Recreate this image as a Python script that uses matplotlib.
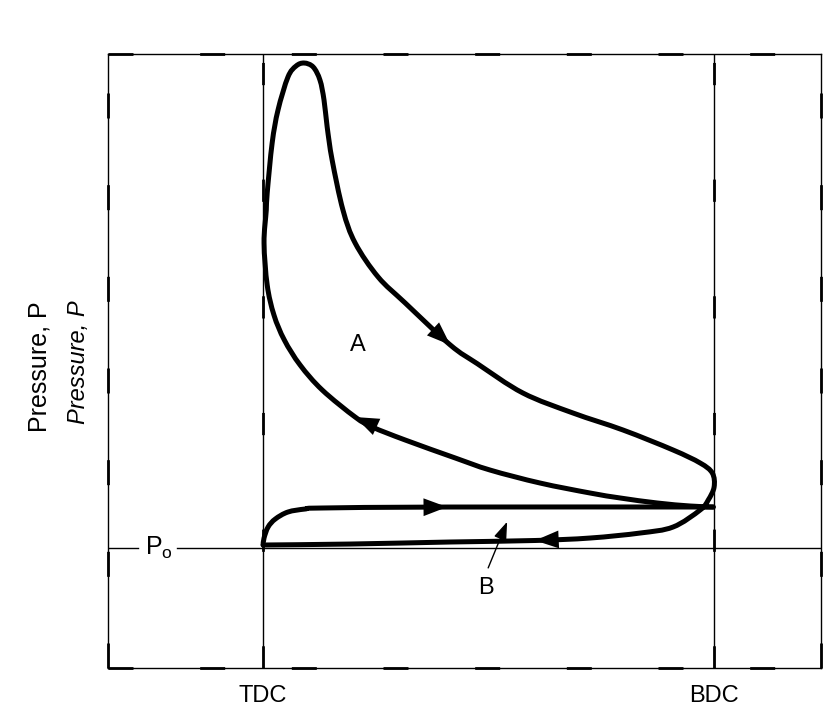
import matplotlib
matplotlib.use("Agg")
import matplotlib.pyplot as plt
from matplotlib.path import Path
from matplotlib.patches import PathPatch
import numpy as np

plt.rcParams['font.family'] = ['Liberation Sans', 'DejaVu Sans']

# ---- data: volume (% of stroke, TDC=0, BDC=100) and pressure (relative units, Po = 0)
# power loop A (compression -> combustion -> expansion -> blowdown -> exhaust)
loop_V = [99.8, 94.7, 87.4, 79.2, 72.5, 61.4, 50.3, 42.6, 31.5, 24.2, 20.4, 13.1, 8.2, 4.7,
          2.4, 0.9, 0.2, 0.7, 0.9, 2.0, 3.3, 5.5, 7.3, 9.1, 11.1, 12.6, 13.5, 14.2, 15.3, 17.7,
          20.4, 25.5, 31.5, 41.5, 47.5, 57.6, 68.7, 79.8, 90.9, 96.9, 99.6, 100.0, 98.7, 96.9,
          90.9, 83.6, 72.5, 60.3, 41.5, 19.3, 0.0]
loop_P = [0.845, 0.866, 0.928, 1.031, 1.134, 1.340, 1.608, 1.856, 2.227, 2.495, 2.701, 3.258,
          3.773, 4.289, 4.804, 5.423, 6.289, 6.969, 7.320, 8.351, 9.031, 9.711, 9.938, 10.000,
          9.918, 9.649, 9.237, 8.680, 8.000, 6.969, 6.289, 5.588, 5.052, 4.186, 3.800, 3.196,
          2.784, 2.433, 2.021, 1.753, 1.546, 1.258, 0.990, 0.784, 0.433, 0.309, 0.206, 0.155,
          0.124, 0.082, 0.062]
# intake stroke (pumping loop B)
intake_V = [0.0, 0.2, 1.1, 2.7, 5.5, 9.3, 13.1, 40.8, 99.8]
intake_P = [0.062, 0.206, 0.433, 0.598, 0.742, 0.804, 0.825, 0.845, 0.845]

tick_pos = [0, 100]
tick_labels = ['TDC', 'BDC']
p0 = 0.0

# arrow (tail index, tip index) on the curves
loop_arrows = [(8, 10), (32, 33), (46, 47)]
intake_arrows = [(6, 7)]


def smooth_path(xs, ys):
    pts = np.column_stack([xs, ys]).astype(float)
    n = len(pts)
    verts = [pts[0]]
    codes = [Path.MOVETO]
    for i in range(n - 1):
        p0_ = pts[i - 1] if i > 0 else pts[i]
        p1 = pts[i]
        p2 = pts[i + 1]
        p3 = pts[i + 2] if i + 2 < n else pts[i + 1]
        c1 = p1 + (p2 - p0_) / 6.0
        c2 = p2 - (p3 - p1) / 6.0
        verts += [c1, c2, p2]
        codes += [Path.CURVE4] * 3
    return Path(verts, codes)


fig = plt.figure(figsize=(8.23, 7.11), dpi=100)
W, H = 823, 711
ax = fig.add_axes([108 / W, (H - 668) / H, (821 - 108) / W, (668 - 54) / H])
ax.set_xlim(-34.4, 123.7)
ax.set_ylim(-2.474, 10.186)

for s in ax.spines.values():
    s.set_linewidth(1.0)
    s.set_color('black')
# dashed overlay to imitate the printed frame
dash = dict(color='black', lw=2.0, dashes=(9, 24), transform=ax.transAxes, clip_on=False,
            solid_capstyle='butt')
ax.plot([0, 1], [1, 1], **dash)
ax.plot([0, 1], [0, 0], **dash)
ax.plot([0, 0], [0, 1], **dash)
ax.plot([1, 1], [0, 1], **dash)

# TDC / BDC lines
for xv in tick_pos:
    ax.axvline(xv, color='black', lw=1.0)
    ax.plot([xv, xv], [-2.474, 10.186], color='black', lw=2.0, dashes=(8, 34),
            solid_capstyle='butt')

# Po line with a gap for the label
ax.plot([-34.4, -27.7], [p0, p0], color='black', lw=1.0)
ax.plot([-19.1, 123.7], [p0, p0], color='black', lw=1.0)
ax.text(-26.2, p0, r'$\mathregular{P_o}$', fontsize=18, ha='left', va='center')

# curves
for xs, ys in [(loop_V, loop_P), (intake_V, intake_P)]:
    ax.add_patch(PathPatch(smooth_path(xs, ys), fill=False, edgecolor='black', lw=3.6,
                           joinstyle='round', capstyle='round'))

astyle = '-|>,head_length=0.85,head_width=0.32'
for a, b in loop_arrows:
    ax.annotate('', xy=(loop_V[b], loop_P[b]), xytext=(loop_V[a], loop_P[a]),
                arrowprops=dict(arrowstyle=astyle, color='black', lw=0, mutation_scale=20,
                                shrinkA=0, shrinkB=0))
for a, b in intake_arrows:
    ax.annotate('', xy=(intake_V[b], intake_P[b]), xytext=(intake_V[a], intake_P[a]),
                arrowprops=dict(arrowstyle=astyle, color='black', lw=0, mutation_scale=20,
                                shrinkA=0, shrinkB=0))

# labels A and B
ax.text(21.1, 4.19, 'A', fontsize=17, ha='center', va='center')
ax.text(49.3, -0.83, 'B', fontsize=17, ha='center', va='center')
ax.annotate('', xy=(54.1, 0.54), xytext=(49.9, -0.41),
            arrowprops=dict(arrowstyle='-|>,head_length=0.7,head_width=0.25', color='black',
                            lw=1.0, mutation_scale=16, shrinkA=0, shrinkB=0))

ax.set_xticks(tick_pos)
ax.set_xticklabels(tick_labels, fontsize=17)
ax.tick_params(axis='x', length=0, pad=12)
ax.set_yticks([])

fig.text(40 / W, 1 - 367 / H, 'Pressure, P', rotation=90, fontsize=18,
         ha='center', va='center')
fig.text(78 / W, 1 - 362 / H, 'Pressure, P', rotation=90, fontsize=17, style='italic',
         ha='center', va='center')

fig.savefig('out.png', dpi=100, facecolor='white')
